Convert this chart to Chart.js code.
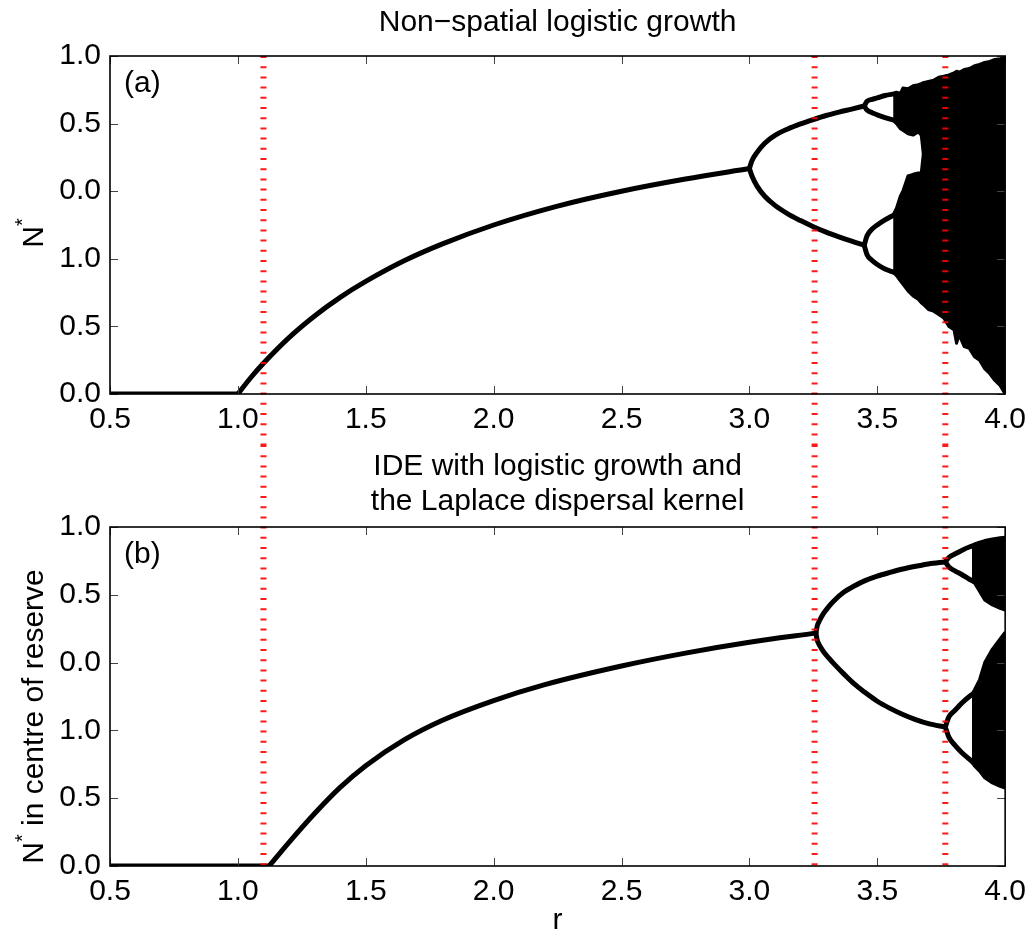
<!DOCTYPE html>
<html>
<head>
<meta charset="utf-8">
<script src="https://cdn.jsdelivr.net/npm/chart.js@4.4.1/dist/chart.umd.min.js"></script>
<style>
body { margin: 0; background: #fff; }
canvas { display: block; }
</style>
</head>
<body>
<canvas id="topChart" width="1034" height="445"></canvas>
<canvas id="bottomChart" width="1034" height="493"></canvas>
<script>
// axes
var xTicks = [0.5, 1.0, 1.5, 2.0, 2.5, 3.0, 3.5, 4.0];
var yTicks = [0, 0.2, 0.4, 0.6, 0.8, 1.0];
var yTickLabels = ['0.0', '0.5', '1.0', '0.0', '0.5', '1.0'];
// red dotted marker lines (r values)
var markerR = [1.1, 3.255, 3.766];

/* panel (a): non-spatial logistic map */
var aZeroR = [0.5, 1.0];
var aZeroN = [0, 0];
var aFixR = [1.0, 1.05, 1.1, 1.2, 1.3, 1.4, 1.5, 1.65, 1.8, 2.0, 2.25, 2.5, 2.75, 3.0];
var aFixN = [0, 0.048, 0.091, 0.167, 0.231, 0.286, 0.333, 0.394, 0.444, 0.5, 0.556, 0.6, 0.636, 0.667];
var aP2R = [3.0, 3.01, 3.03, 3.06, 3.1, 3.15, 3.2, 3.25, 3.3, 3.35, 3.4, 3.449];
var aP2Up = [0.667, 0.69, 0.715, 0.742, 0.765, 0.784, 0.799, 0.812, 0.824, 0.834, 0.843, 0.852];
var aP2Lo = [0.667, 0.645, 0.615, 0.585, 0.558, 0.533, 0.513, 0.495, 0.479, 0.465, 0.452, 0.44];
var aP4R = [3.449, 3.46, 3.48, 3.5, 3.53, 3.566];
var aP4a = [0.852, 0.866, 0.872, 0.876, 0.883, 0.888];
var aP4b = [0.852, 0.84, 0.832, 0.826, 0.818, 0.81];
var aP4c = [0.44, 0.468, 0.488, 0.5, 0.515, 0.53];
var aP4d = [0.44, 0.412, 0.395, 0.383, 0.37, 0.36];
// two chaotic bands before they merge
var aBandR = [3.562, 3.575, 3.59, 3.6, 3.62, 3.64, 3.66, 3.672, 3.68];
var aUpTop = [0.888, 0.893, 0.889, 0.905, 0.903, 0.912, 0.915, 0.918, 0.92];
var aUpLow = [0.81, 0.8, 0.785, 0.78, 0.77, 0.766, 0.775, 0.766, 0.71];
var aLoTop = [0.53, 0.55, 0.585, 0.6, 0.645, 0.65, 0.654, 0.654, 0.71];
var aLoLow = [0.36, 0.35, 0.335, 0.325, 0.305, 0.29, 0.28, 0.27, 0.265];
// merged chaotic band
var aChaosR = [3.676, 3.7, 3.72, 3.74, 3.76, 3.78, 3.8, 3.81, 3.82, 3.84, 3.86, 3.88, 3.9, 3.92, 3.94, 3.96, 3.98, 4.0];
var aChaosTop = [0.92, 0.925, 0.928, 0.937, 0.94, 0.944, 0.95, 0.955, 0.952, 0.96, 0.963, 0.971, 0.975, 0.981, 0.984, 0.99, 0.992, 0.995];
var aChaosLow = [0.268, 0.25, 0.245, 0.235, 0.225, 0.2, 0.19, 0.15, 0.175, 0.14, 0.135, 0.11, 0.1, 0.075, 0.06, 0.04, 0.025, 0.0];

/* panel (b): IDE, centre of reserve */
var bZeroR = [0.5, 1.122];
var bZeroN = [0, 0];
var bFixR = [1.122, 1.2, 1.3, 1.4, 1.5, 1.65, 1.8, 2.0, 2.2, 2.5, 2.75, 3.0, 3.26];
var bFixN = [0, 0.07, 0.155, 0.232, 0.296, 0.372, 0.43, 0.488, 0.535, 0.59, 0.628, 0.66, 0.687];
var bP2R = [3.26, 3.265, 3.275, 3.29, 3.31, 3.33, 3.37, 3.41, 3.45, 3.5, 3.55, 3.6, 3.65, 3.7, 3.766];
var bP2Up = [0.687, 0.707, 0.725, 0.745, 0.765, 0.782, 0.808, 0.826, 0.841, 0.855, 0.866, 0.876, 0.884, 0.891, 0.897];
var bP2Lo = [0.687, 0.667, 0.65, 0.632, 0.614, 0.597, 0.566, 0.537, 0.513, 0.486, 0.465, 0.447, 0.432, 0.42, 0.41];
var bP4R = [3.766, 3.78, 3.805, 3.83, 3.86, 3.895];
var bP4a = [0.897, 0.91, 0.921, 0.931, 0.941, 0.949];
var bP4b = [0.897, 0.882, 0.87, 0.86, 0.846, 0.833];
var bP4c = [0.41, 0.44, 0.46, 0.48, 0.5, 0.518];
var bP4d = [0.41, 0.38, 0.355, 0.335, 0.315, 0.292];
// clusters near r = 4
var bClR = [3.87, 3.88, 3.9, 3.92, 3.95, 3.98, 4.0];
var bUpTop = [0.944, 0.95, 0.955, 0.96, 0.965, 0.968, 0.97];
var bUpLow = [0.84, 0.835, 0.81, 0.785, 0.77, 0.76, 0.755];
var bLoTop = [0.506, 0.52, 0.55, 0.6, 0.64, 0.67, 0.69];
var bLoLow = [0.306, 0.295, 0.28, 0.26, 0.245, 0.235, 0.23];

var FONT = "'Liberation Sans', Arial, Helvetica, sans-serif";

function pts(rs, ns) {
    return rs.map(function (r, i) { return {x: r, y: ns[i]}; });
}

function branch(rs, ns) {
    return {
        data: pts(rs, ns),
        borderColor: '#000',
        borderWidth: 5,
        pointRadius: 0,
        cubicInterpolationMode: 'monotone',
        borderJoinStyle: 'round',
        borderCapStyle: 'round',
        fill: false
    };
}

// filled band between two edges (top edge fills down to the next dataset)
function band(rs, top, low) {
    return [
        {data: pts(rs, top), borderColor: '#000', backgroundColor: '#000', borderWidth: 3,
         pointRadius: 0, borderJoinStyle: 'round', fill: '+1'},
        {data: pts(rs, low), borderColor: '#000', borderWidth: 3,
         pointRadius: 0, borderJoinStyle: 'round', fill: false}
    ];
}

function line(ctx, x1, y1, x2, y2) {
    ctx.beginPath();
    ctx.moveTo(x1, y1);
    ctx.lineTo(x2, y2);
    ctx.stroke();
}

// N* with a raised star, rotated
function drawYTitle(ctx, cx, cy, rest) {
    ctx.save();
    ctx.translate(cx, cy);
    ctx.rotate(-Math.PI / 2);
    ctx.fillStyle = '#000';
    ctx.textBaseline = 'alphabetic';
    ctx.textAlign = 'left';
    ctx.font = '30px ' + FONT;
    var wN = ctx.measureText('N').width;
    var wRest = rest ? ctx.measureText(rest).width : 0;
    ctx.font = '20px ' + FONT;
    var wS = ctx.measureText('*').width;
    var x0 = -(wN + wS + wRest) / 2;
    ctx.font = '30px ' + FONT;
    ctx.fillText('N', x0, 0);
    ctx.font = '20px ' + FONT;
    ctx.fillText('*', x0 + wN, -14);
    if (rest) {
        ctx.font = '30px ' + FONT;
        ctx.fillText(rest, x0 + wN + wS, 0);
    }
    ctx.restore();
}

// inside ticks on all four sides + box
const framePlugin = {
    id: 'frame',
    afterDraw(chart) {
        const ctx = chart.ctx;
        const a = chart.chartArea;
        const xs = chart.scales.x, ys = chart.scales.y;
        ctx.save();
        ctx.strokeStyle = '#444';
        ctx.lineWidth = 1;
        xTicks.forEach(function (v) {
            const px = Math.round(xs.getPixelForValue(v)) + 0.5;
            line(ctx, px, a.bottom, px, a.bottom - 8);
            line(ctx, px, a.top, px, a.top + 8);
        });
        yTicks.forEach(function (v) {
            const py = Math.round(ys.getPixelForValue(v)) + 0.5;
            line(ctx, a.left, py, a.left + 8, py);
            line(ctx, a.right, py, a.right - 8, py);
        });
        ctx.strokeStyle = '#000';
        ctx.lineWidth = 1.6;
        ctx.strokeRect(a.left, a.top, a.right - a.left, a.bottom - a.top);
        ctx.restore();
    }
};

// red dotted lines running through both panels
const markerPlugin = {
    id: 'markers',
    afterDatasetsDraw(chart, args, opts) {
        const ctx = chart.ctx;
        const a = chart.chartArea;
        const y1 = opts.fromTop ? a.top : 0;
        const y2 = opts.fromTop ? chart.height : a.bottom;
        ctx.save();
        ctx.strokeStyle = 'rgba(255,0,0,0.9)';
        ctx.lineWidth = 6;
        ctx.setLineDash([2, 8.2]);
        markerR.forEach(function (r) {
            const px = chart.scales.x.getPixelForValue(r);
            line(ctx, px, y1, px, y2);
        });
        ctx.restore();
    }
};

const textPlugin = {
    id: 'panelText',
    afterDraw(chart, args, opts) {
        const ctx = chart.ctx;
        const a = chart.chartArea;
        const cx = (a.left + a.right) / 2;
        ctx.save();
        ctx.fillStyle = '#000';
        ctx.font = '30px ' + FONT;
        ctx.textBaseline = 'alphabetic';
        ctx.textAlign = 'center';
        opts.titles.forEach(function (t) { ctx.fillText(t.text, cx, t.y); });
        ctx.textAlign = 'left';
        ctx.fillText(opts.tag, a.left + 14, a.top + 36);
        if (opts.xTitle) {
            ctx.textAlign = 'center';
            ctx.fillText(opts.xTitle, cx, chart.height - 9);
        }
        ctx.restore();
        drawYTitle(ctx, 43, (a.top + a.bottom) / 2 + opts.yShift, opts.yRest);
    }
};

function makeChart(id, datasets, cfg) {
    return new Chart(document.getElementById(id), {
        type: 'line',
        data: {datasets: datasets},
        plugins: [markerPlugin, framePlugin, textPlugin],
        options: {
            responsive: false,
            animation: false,
            events: [],
            layout: {padding: {top: cfg.padTop, right: 28, left: 0, bottom: 0}},
            scales: {
                x: {
                    type: 'linear', min: 0.5, max: 4.0,
                    grid: {display: false, drawTicks: false},
                    border: {display: false},
                    afterBuildTicks: function (s) { s.ticks = xTicks.map(function (v) { return {value: v}; }); },
                    afterFit: function (s) { s.height = cfg.xHeight; },
                    ticks: {
                        padding: 8, color: '#000', maxRotation: 0, autoSkip: false,
                        font: {family: FONT, size: 30},
                        callback: function (v) { return v.toFixed(1); }
                    }
                },
                y: {
                    type: 'linear', min: 0, max: 1,
                    grid: {display: false, drawTicks: false},
                    border: {display: false},
                    afterBuildTicks: function (s) { s.ticks = yTicks.map(function (v) { return {value: v}; }); },
                    afterFit: function (s) { s.width = 110; },
                    ticks: {
                        padding: 9, color: '#000', autoSkip: false,
                        font: {family: FONT, size: 30},
                        callback: function (v, i) { return yTickLabels[i]; }
                    }
                }
            },
            plugins: {
                legend: {display: false},
                tooltip: {enabled: false},
                markers: {fromTop: cfg.fromTop},
                panelText: cfg.text
            }
        }
    });
}

/* top panel */
var topSets = [
    branch(aZeroR, aZeroN),
    branch(aFixR, aFixN),
    branch(aP2R, aP2Up),
    branch(aP2R, aP2Lo),
    branch(aP4R, aP4a),
    branch(aP4R, aP4b),
    branch(aP4R, aP4c),
    branch(aP4R, aP4d)
].concat(band(aBandR, aUpTop, aUpLow), band(aBandR, aLoTop, aLoLow), band(aChaosR, aChaosTop, aChaosLow));

makeChart('topChart', topSets, {
    padTop: 56, xHeight: 51, fromTop: true,
    text: {titles: [{text: 'Non\u2212spatial logistic growth', y: 31}], tag: '(a)', yRest: '', yShift: 8}
});

/* bottom panel */
var bottomSets = [
    branch(bZeroR, bZeroN),
    branch(bFixR, bFixN),
    branch(bP2R, bP2Up),
    branch(bP2R, bP2Lo),
    branch(bP4R, bP4a),
    branch(bP4R, bP4b),
    branch(bP4R, bP4c),
    branch(bP4R, bP4d)
].concat(band(bClR, bUpTop, bUpLow), band(bClR, bLoTop, bLoLow));

makeChart('bottomChart', bottomSets, {
    padTop: 82, xHeight: 72, fromTop: false,
    text: {
        titles: [{text: 'IDE with logistic growth and', y: 30}, {text: 'the Laplace dispersal kernel', y: 65}],
        tag: '(b)', yRest: ' in centre of reserve', xTitle: 'r', yShift: 20
    }
});
</script>
</body>
</html>
